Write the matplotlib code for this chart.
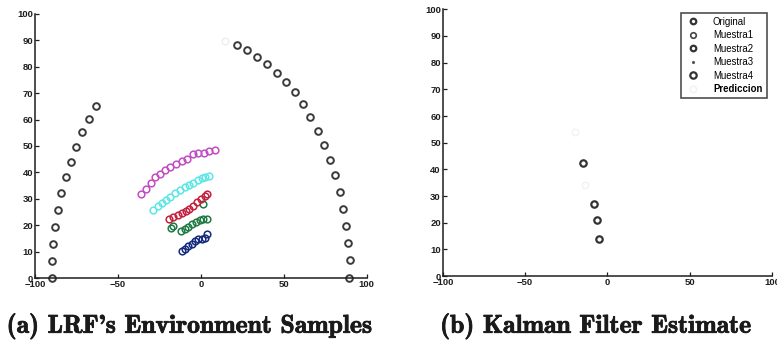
import matplotlib
matplotlib.use("Agg")
import matplotlib.pyplot as plt
import matplotlib.patheffects as pe
from matplotlib.font_manager import FontProperties

# Laser range finder scan: original environment points
orig_x = [-89.6, -89.6, -89.0, -88.0, -86.0, -84.2, -81.4, -78.4, -75.2, -71.6, -67.2, -63.0,
          21.6, 28.0, 34.0, 40.0, 46.0, 51.4, 56.8, 61.8, 66.0, 70.4, 74.2, 78.0, 81.0,
          83.8, 85.8, 87.6, 89.0, 89.8, 89.6]
orig_y = [0.0, 6.5, 12.7, 19.2, 25.6, 32.2, 38.2, 44.0, 49.7, 55.2, 60.3, 65.2,
          88.1, 86.3, 83.8, 81.0, 77.7, 74.2, 70.3, 65.7, 60.9, 55.8, 50.5, 44.8, 38.9,
          32.5, 26.2, 19.7, 13.2, 6.8, 0.0]

# Sampled obstacle arcs
m1_x = [-11.6, -9.6, -7.6, -5.6, -3.6, -1.6, 0.4, 2.4, 4.0]
m1_y = [10.3, 11.1, 12.2, 13.0, 14.1, 14.6, 14.8, 15.3, 16.5]
m2_x = [-18.2, -16.6, -12.0, -9.6, -7.6, -5.2, -2.8, -0.8, 1.4, 4.0, 1.0]
m2_y = [19.0, 19.7, 17.7, 18.6, 19.5, 20.4, 21.1, 21.8, 22.5, 22.3, 28.1]
m3_x = [-19.2, -16.6, -14.0, -11.6, -9.2, -7.0, -4.8, -2.4, 0.0, 2.4, 4.0]
m3_y = [22.5, 23.0, 23.8, 24.7, 25.4, 26.3, 27.3, 28.7, 29.9, 30.9, 31.9]
m4_x = [-28.6, -26.0, -23.6, -21.0, -18.4, -15.6, -12.6, -9.8, -7.2, -4.6, -2.0, 0.4, 2.8, 5.2]
m4_y = [25.9, 27.2, 28.5, 29.5, 30.8, 32.3, 33.3, 34.6, 35.1, 36.1, 37.1, 38.0, 38.4, 38.6]
m5_x = [-36.0, -33.0, -30.2, -27.4, -24.8, -21.6, -18.4, -15.0, -11.6, -8.2, -4.8, -1.6, 1.6, 4.8, 8.8]
m5_y = [31.8, 33.8, 36.1, 38.2, 39.5, 40.9, 42.2, 43.2, 44.2, 45.2, 47.0, 47.2, 47.3, 48.1, 48.6]
faint_a_x = [14.8]
faint_a_y = [89.6]

# Kalman filter estimate
est_x = [-15.0, -8.1, -6.5, -4.9]
est_y = [42.5, 27.1, 21.1, 14.0]
pred_x = [-19.6, -13.6]
pred_y = [54.0, 34.0]

legend_labels = ["Original", "Muestra1", "Muestra2", "Muestra3", "Muestra4", "Prediccion"]
captions = ["(a) LRF's Environment Samples", "(b) Kalman Filter Estimate"]

fig = plt.figure(figsize=(7.77, 3.43), dpi=100)
ax1 = fig.add_axes([0.045, 0.1895, 0.427, 0.770])
ax2 = fig.add_axes([0.570, 0.195, 0.4234, 0.778])

tick_fp = FontProperties(family="Liberation Sans", weight="bold", size=6.8)


def style_axes(ax):
    ax.set_xlim(-100, 100)
    ax.set_ylim(0, 100)
    ax.set_xticks([-100, -50, 0, 50, 100])
    ax.set_yticks(range(0, 101, 10))
    for s in ("top", "right"):
        ax.spines[s].set_visible(False)
    for s in ("left", "bottom"):
        ax.spines[s].set_linewidth(1.1)
        ax.spines[s].set_color("#1e1e1e")
    ax.tick_params(direction="in", length=3, width=0.9, colors="#1e1e1e", pad=1.5)
    for lab in ax.get_xticklabels() + ax.get_yticklabels():
        lab.set_fontproperties(tick_fp)


ms = 4.8
mew = 1.1
ax1.plot(orig_x, orig_y, "o", ms=ms, mfc="none", mec="#3a3a3a", mew=1.4, clip_on=False)
ax1.plot(faint_a_x, faint_a_y, "o", ms=ms, mfc="none", mec="#eeeeee", mew=1.0)
ax1.plot(m1_x, m1_y, "o", ms=ms, mfc="none", mec="#142a7c", mew=mew)
ax1.plot(m2_x, m2_y, "o", ms=ms, mfc="none", mec="#1f7a45", mew=mew)
ax1.plot(m3_x, m3_y, "o", ms=ms, mfc="none", mec="#c4203e", mew=mew)
ax1.plot(m4_x, m4_y, "o", ms=ms, mfc="none", mec="#5ee6e6", mew=mew)
ax1.plot(m5_x, m5_y, "o", ms=ms, mfc="none", mec="#c24cc2", mew=mew)
style_axes(ax1)

h0, = ax2.plot([], [], "o", ms=4, mfc="none", mec="#333333", mew=1.6)
h1, = ax2.plot([], [], "o", ms=4, mfc="none", mec="#444444", mew=1.2)
h2, = ax2.plot([], [], "o", ms=4, mfc="none", mec="#333333", mew=1.6)
h3, = ax2.plot([], [], ".", ms=2.5, color="#555555")
h4, = ax2.plot(est_x, est_y, "o", ms=4.6, mfc="none", mec="#333333", mew=1.6)
h5, = ax2.plot(pred_x, pred_y, "o", ms=4.6, mfc="none", mec="#f2f2f2", mew=1.0)
style_axes(ax2)

leg = ax2.legend([h0, h1, h2, h3, h4, h5], legend_labels, loc="upper right",
                 bbox_to_anchor=(0.99, 0.995), prop=dict(family="Liberation Sans", size=6.9),
                 frameon=True, fancybox=False, borderpad=0.45, labelspacing=0.36,
                 handlelength=1.6, handletextpad=1.3, borderaxespad=0.2)
leg.get_frame().set_edgecolor("#222222")
leg.get_frame().set_linewidth(1.2)
leg.get_texts()[-1].set_fontweight("bold")

cap_effects = [pe.withStroke(linewidth=0.6, foreground="#1a1a1a")]
fig.text(0.2445, 0.03, captions[0], ha="center", va="baseline",
         fontsize=18.5, family="cmb10", color="#1a1a1a", path_effects=cap_effects)
fig.text(0.767, 0.03, captions[1], ha="center", va="baseline",
         fontsize=18.5, family="cmb10", color="#1a1a1a", path_effects=cap_effects)

fig.savefig("out.png", dpi=100)
